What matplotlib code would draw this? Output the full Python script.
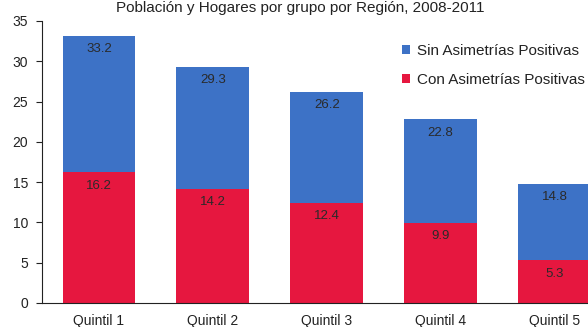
import matplotlib
matplotlib.use("Agg")
import matplotlib.pyplot as plt
import numpy as np

categories = ["Quintil 1", "Quintil 2", "Quintil 3", "Quintil 4", "Quintil 5"]
total_values = [33.2, 29.3, 26.2, 22.8, 14.8]
con_values = [16.2, 14.2, 12.4, 9.9, 5.3]
sin_values = [t - c for t, c in zip(total_values, con_values)]
series_names = ["Sin Asimetrías Positivas", "Con Asimetrías Positivas"]
yticks = [0, 5, 10, 15, 20, 25, 30, 35]

blue = "#3D72C6"
red = "#E6173F"

plt.rcParams['font.family'] = ['Liberation Sans', 'DejaVu Sans']

fig = plt.figure(figsize=(5.88, 3.27), dpi=100)
W, H = 588, 327
ax = fig.add_axes([42 / W, 24 / H, (611.5 - 42) / W, (306 - 24) / H])

x = np.arange(len(categories))
width = 0.64
ax.bar(x, con_values, width, color=red, label=series_names[1], zorder=2)
ax.bar(x, sin_values, width, bottom=con_values, color=blue, label=series_names[0], zorder=2)

for xi, c, t in zip(x, con_values, total_values):
    ax.text(xi, c - 0.9, f"{c:.1f}", ha="center", va="top", fontsize=9.5, color="#2a2a2a")
    ax.text(xi, t - 0.9, f"{t:.1f}", ha="center", va="top", fontsize=9.5, color="#2a2a2a")

ax.set_xlim(-0.5, 4.5)
ax.set_ylim(0, 35)
ax.set_yticks(yticks)
ax.set_xticks(x)
ax.set_xticklabels(categories, fontsize=10)
ax.tick_params(axis="y", labelsize=10, length=4, width=0.8, pad=6, colors="#222222")
ax.tick_params(axis="x", length=0, pad=8, colors="#222222")
for s in ["top", "right"]:
    ax.spines[s].set_visible(False)
ax.spines["left"].set_color("#222222")
ax.spines["bottom"].set_color("#222222")

handles, labels = ax.get_legend_handles_labels()
leg = ax.legend(handles[::-1], labels[::-1], loc="upper left",
                bbox_to_anchor=(402 / W, 1 - 44 / H), bbox_transform=fig.transFigure,
                frameon=False, fontsize=11, handlelength=0.5, handleheight=0.5,
                handletextpad=0.45, labelspacing=1.0, borderaxespad=0, borderpad=0)
for t in leg.get_texts():
    t.set_color("#222222")

fig.text(300 / W, 1 - 12 / H, "Población y Hogares por grupo por Región, 2008-2011",
         ha="center", va="baseline", fontsize=11, color="#222222")

fig.savefig("out.png", dpi=100, facecolor="white")
